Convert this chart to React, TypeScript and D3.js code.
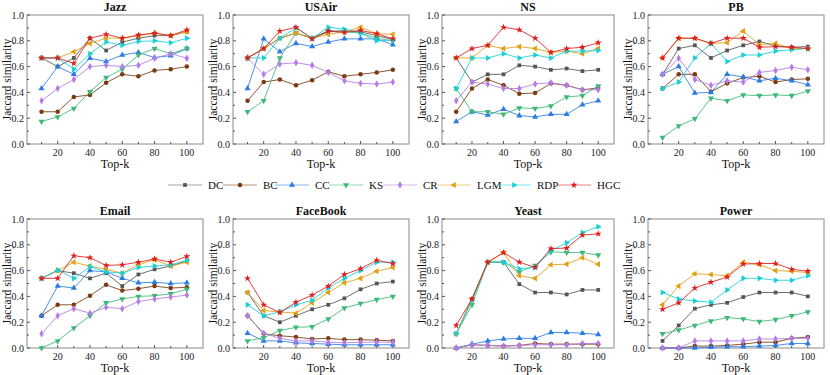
import { useEffect, useRef } from "react";
import * as d3 from "d3";

const topK = [10, 20, 30, 40, 50, 60, 70, 80, 90, 100];
const methods = ["DC", "BC", "CC", "KS", "CR", "LGM", "RDP", "HGC"];
const colors = ["#555555", "#7b3a10", "#2a7be4", "#3cb878", "#b57be6", "#e0a010", "#18d0d8", "#e01c1c"];
const yTicks = [0, 0.2, 0.4, 0.6, 0.8, 1.0];
const xTicks = [20, 40, 60, 80, 100];

const jazz = [
  [0.667, 0.6, 0.667, 0.82, 0.725, 0.79, 0.82, 0.84, 0.84, 0.87],
  [0.25, 0.25, 0.365, 0.38, 0.475, 0.54, 0.525, 0.57, 0.58, 0.6],
  [0.43, 0.6, 0.54, 0.665, 0.64, 0.69, 0.71, 0.67, 0.685, 0.74],
  [0.175, 0.21, 0.275, 0.405, 0.515, 0.58, 0.69, 0.74, 0.7, 0.74],
  [0.335, 0.43, 0.5, 0.6, 0.61, 0.6, 0.61, 0.665, 0.7, 0.665],
  [0.667, 0.667, 0.715, 0.78, 0.82, 0.82, 0.84, 0.86, 0.84, 0.87],
  [0.667, 0.667, 0.58, 0.7, 0.79, 0.765, 0.795, 0.8, 0.785, 0.82],
  [0.667, 0.667, 0.625, 0.82, 0.85, 0.82, 0.845, 0.86, 0.84, 0.885],
];
const usair = [
  [0.667, 0.74, 0.82, 0.86, 0.82, 0.87, 0.88, 0.87, 0.84, 0.81],
  [0.335, 0.48, 0.5, 0.455, 0.495, 0.56, 0.525, 0.54, 0.555, 0.575],
  [0.43, 0.815, 0.715, 0.78, 0.755, 0.79, 0.815, 0.815, 0.815, 0.77],
  [0.25, 0.335, 0.667, 0.86, 0.82, 0.88, 0.87, 0.86, 0.82, 0.8],
  [0.667, 0.54, 0.62, 0.63, 0.61, 0.555, 0.49, 0.47, 0.465, 0.48],
  [0.667, 0.74, 0.82, 0.86, 0.82, 0.85, 0.87, 0.905, 0.855, 0.85],
  [0.667, 0.667, 0.82, 0.9, 0.82, 0.905, 0.89, 0.86, 0.8, 0.805],
  [0.667, 0.74, 0.875, 0.905, 0.815, 0.875, 0.865, 0.88, 0.855, 0.815],
];
const ns = [
  [0.667, 0.48, 0.54, 0.54, 0.61, 0.6, 0.575, 0.585, 0.565, 0.575],
  [0.25, 0.43, 0.5, 0.455, 0.39, 0.395, 0.47, 0.455, 0.42, 0.435],
  [0.175, 0.25, 0.225, 0.27, 0.22, 0.21, 0.23, 0.23, 0.305, 0.335],
  [0.43, 0.25, 0.25, 0.23, 0.28, 0.275, 0.295, 0.365, 0.375, 0.45],
  [0.335, 0.48, 0.465, 0.43, 0.43, 0.465, 0.475, 0.455, 0.42, 0.42],
  [0.667, 0.667, 0.765, 0.74, 0.755, 0.74, 0.71, 0.72, 0.7, 0.74],
  [0.43, 0.667, 0.667, 0.7, 0.667, 0.69, 0.667, 0.72, 0.72, 0.725],
  [0.667, 0.74, 0.765, 0.905, 0.885, 0.82, 0.71, 0.74, 0.75, 0.785],
];
const pb = [
  [0.54, 0.74, 0.765, 0.667, 0.725, 0.765, 0.795, 0.76, 0.75, 0.755],
  [0.43, 0.54, 0.54, 0.405, 0.47, 0.515, 0.525, 0.48, 0.5, 0.505],
  [0.54, 0.6, 0.395, 0.4, 0.54, 0.52, 0.49, 0.51, 0.49, 0.46],
  [0.05, 0.14, 0.195, 0.355, 0.335, 0.38, 0.375, 0.38, 0.375, 0.41],
  [0.54, 0.665, 0.5, 0.455, 0.49, 0.48, 0.555, 0.57, 0.595, 0.575],
  [0.667, 0.82, 0.82, 0.78, 0.785, 0.875, 0.77, 0.78, 0.74, 0.74],
  [0.43, 0.48, 0.667, 0.78, 0.64, 0.69, 0.69, 0.72, 0.73, 0.74],
  [0.667, 0.82, 0.82, 0.78, 0.82, 0.82, 0.75, 0.755, 0.75, 0.74],
];
const email = [
  [0.54, 0.6, 0.58, 0.54, 0.58, 0.48, 0.57, 0.61, 0.635, 0.675],
  [0.25, 0.335, 0.335, 0.405, 0.49, 0.445, 0.46, 0.48, 0.465, 0.47],
  [0.25, 0.48, 0.465, 0.6, 0.59, 0.54, 0.505, 0.51, 0.5, 0.505],
  [0.0, 0.055, 0.155, 0.25, 0.35, 0.38, 0.4, 0.405, 0.42, 0.455],
  [0.11, 0.25, 0.305, 0.27, 0.315, 0.305, 0.36, 0.38, 0.395, 0.41],
  [0.54, 0.6, 0.665, 0.635, 0.61, 0.58, 0.645, 0.685, 0.635, 0.665],
  [0.54, 0.605, 0.54, 0.63, 0.59, 0.58, 0.625, 0.635, 0.645, 0.68],
  [0.54, 0.54, 0.715, 0.7, 0.64, 0.645, 0.665, 0.69, 0.665, 0.71],
];
const facebook = [
  [0.43, 0.25, 0.2, 0.25, 0.3, 0.335, 0.385, 0.455, 0.5, 0.515],
  [0.25, 0.11, 0.095, 0.085, 0.07, 0.075, 0.065, 0.065, 0.06, 0.055],
  [0.115, 0.055, 0.055, 0.04, 0.035, 0.03, 0.025, 0.025, 0.025, 0.025],
  [0.055, 0.08, 0.135, 0.16, 0.165, 0.225, 0.31, 0.345, 0.375, 0.4],
  [0.25, 0.115, 0.075, 0.055, 0.055, 0.045, 0.04, 0.045, 0.045, 0.045],
  [0.43, 0.29, 0.28, 0.27, 0.35, 0.43, 0.505, 0.54, 0.595, 0.625],
  [0.335, 0.25, 0.28, 0.335, 0.37, 0.465, 0.54, 0.6, 0.665, 0.665],
  [0.54, 0.335, 0.275, 0.355, 0.41, 0.48, 0.57, 0.615, 0.68, 0.655],
];
const yeast = [
  [0.11, 0.38, 0.665, 0.665, 0.495, 0.43, 0.43, 0.415, 0.45, 0.45],
  [0.0, 0.025, 0.02, 0.015, 0.02, 0.035, 0.03, 0.03, 0.03, 0.03],
  [0.0, 0.03, 0.055, 0.07, 0.075, 0.075, 0.12, 0.12, 0.115, 0.105],
  [0.11, 0.335, 0.665, 0.665, 0.59, 0.64, 0.745, 0.74, 0.74, 0.72],
  [0.0, 0.025, 0.02, 0.015, 0.02, 0.025, 0.025, 0.025, 0.035, 0.035],
  [0.11, 0.38, 0.665, 0.74, 0.56, 0.54, 0.645, 0.65, 0.7, 0.65],
  [0.11, 0.37, 0.665, 0.665, 0.615, 0.625, 0.755, 0.815, 0.895, 0.94],
  [0.175, 0.38, 0.665, 0.74, 0.665, 0.625, 0.77, 0.775, 0.875, 0.885],
];
const power = [
  [0.055, 0.175, 0.305, 0.335, 0.35, 0.395, 0.43, 0.43, 0.43, 0.4],
  [0.0, 0.0, 0.015, 0.015, 0.02, 0.03, 0.045, 0.045, 0.075, 0.085],
  [0.0, 0.0, 0.0, 0.005, 0.01, 0.01, 0.015, 0.02, 0.035, 0.035],
  [0.11, 0.14, 0.175, 0.21, 0.235, 0.225, 0.205, 0.22, 0.25, 0.28],
  [0.0, 0.0, 0.055, 0.055, 0.055, 0.055, 0.07, 0.07, 0.075, 0.075],
  [0.335, 0.48, 0.575, 0.57, 0.56, 0.665, 0.645, 0.6, 0.595, 0.585],
  [0.43, 0.38, 0.365, 0.355, 0.45, 0.54, 0.54, 0.525, 0.525, 0.56],
  [0.3, 0.35, 0.465, 0.51, 0.55, 0.65, 0.655, 0.655, 0.61, 0.595],
];

const datasets = ["Jazz", "USAir", "NS", "PB", "Email", "FaceBook", "Yeast", "Power"];
const values = [jazz, usair, ns, pb, email, facebook, yeast, power];

// panel frames
const colLeft = [27, 233, 442, 648];
const colRight = [203, 409, 614, 824];
const rowTop = [15, 219];
const rowBottom = [144, 348];

const legendX = [168, 223, 275, 329, 383, 437, 497, 557];
const FONT = "Liberation Serif, DejaVu Serif, Times New Roman, serif";

const symbolFor = (i: number) => {
  const types = [d3.symbolSquare, d3.symbolCircle, d3.symbolTriangle, d3.symbolTriangle,
    d3.symbolDiamond, d3.symbolTriangle, d3.symbolTriangle, d3.symbolStar];
  const rot = [0, 0, 0, 180, 0, -90, 90, 0];
  const size = [14, 16, 16, 16, 16, 16, 16, 15];
  return { d: d3.symbol().type(types[i]).size(size[i])(), rot: rot[i] };
};

const App = () => {
  const ref = useRef<SVGSVGElement>(null);

  useEffect(() => {
    if (!ref.current) return;
    const svg = d3.select(ref.current);
    svg.selectAll("*").remove();

    datasets.forEach((name, p) => {
      const col = p % 4;
      const row = Math.floor(p / 4);
      const x0 = colLeft[col], x1 = colRight[col];
      const y0 = rowTop[row], y1 = rowBottom[row];
      const x = d3.scaleLinear().domain([1, 110]).range([x0, x1]);
      const y = d3.scaleLinear().domain([0, 1]).range([y1, y0]);
      const g = svg.append("g").attr("font-family", FONT);

      // frame
      g.append("rect").attr("x", x0).attr("y", y0).attr("width", x1 - x0).attr("height", y1 - y0)
        .attr("fill", "none").attr("stroke", "#8a8a8a").attr("stroke-width", 1);

      // ticks (inward)
      d3.range(10, 101, 10).forEach((t) => {
        const major = t % 20 === 0;
        g.append("line").attr("x1", x(t)).attr("x2", x(t)).attr("y1", y1).attr("y2", y1 - (major ? 3 : 2))
          .attr("stroke", "#555");
      });
      d3.range(0, 1.001, 0.1).forEach((t) => {
        const major = Math.round(t * 10) % 2 === 0;
        g.append("line").attr("x1", x0).attr("x2", x0 + (major ? 3 : 2)).attr("y1", y(t)).attr("y2", y(t))
          .attr("stroke", "#555");
      });
      xTicks.forEach((t) => {
        g.append("text").attr("x", x(t)).attr("y", y1 + 12).attr("text-anchor", "middle")
          .attr("font-size", 10).attr("fill", "#222").text(t);
      });
      yTicks.forEach((t) => {
        g.append("text").attr("x", x0 - 3).attr("y", y(t) + 3.5).attr("text-anchor", "end")
          .attr("font-size", 10).attr("fill", "#222").text(t.toFixed(1));
      });

      // labels
      g.append("text").attr("x", (x0 + x1) / 2).attr("y", y0 - 4).attr("text-anchor", "middle")
        .attr("font-size", 12).attr("font-weight", "bold").attr("fill", "#111").text(name);
      g.append("text").attr("x", (x0 + x1) / 2).attr("y", y1 + 24).attr("text-anchor", "middle")
        .attr("font-size", 12).attr("fill", "#111").text("Top-k");
      g.append("text").attr("transform", `translate(${x0 - 16.5},${(y0 + y1) / 2}) rotate(-90)`)
        .attr("text-anchor", "middle").attr("font-size", 11.5).attr("fill", "#111")
        .text("Jaccard similarity");

      const line = d3.line<number>().x((_, i) => x(topK[i])).y((v) => y(v));
      values[p].forEach((series, m) => {
        const sg = g.append("g");
        sg.append("path").attr("d", line(series)).attr("fill", "none").attr("stroke", colors[m])
          .attr("stroke-width", 1).attr("stroke-opacity", 0.85);
        const sym = symbolFor(m);
        series.forEach((v, i) => {
          sg.append("path").attr("d", sym.d)
            .attr("transform", `translate(${x(topK[i])},${y(v)}) rotate(${sym.rot})`)
            .attr("fill", colors[m]);
        });
      });
    });

    // legend
    const ly = 185;
    methods.forEach((m, i) => {
      const lx = legendX[i];
      svg.append("line").attr("x1", lx).attr("x2", lx + 34).attr("y1", ly).attr("y2", ly)
        .attr("stroke", colors[i]).attr("stroke-width", 1.2).attr("stroke-opacity", 0.55);
      const sym = symbolFor(i);
      svg.append("path").attr("d", sym.d).attr("transform", `translate(${lx + 17},${ly}) rotate(${sym.rot})`)
        .attr("fill", colors[i]);
      svg.append("text").attr("x", lx + 40).attr("y", ly + 4).attr("font-family", FONT).attr("font-size", 11)
        .attr("fill", "#111").text(m);
    });
  }, []);

  return (
    <svg ref={ref} width={830} height={375}
      style={{ position: "absolute", left: 0, top: 0, background: "#fff" }} />
  );
};

export default App;
